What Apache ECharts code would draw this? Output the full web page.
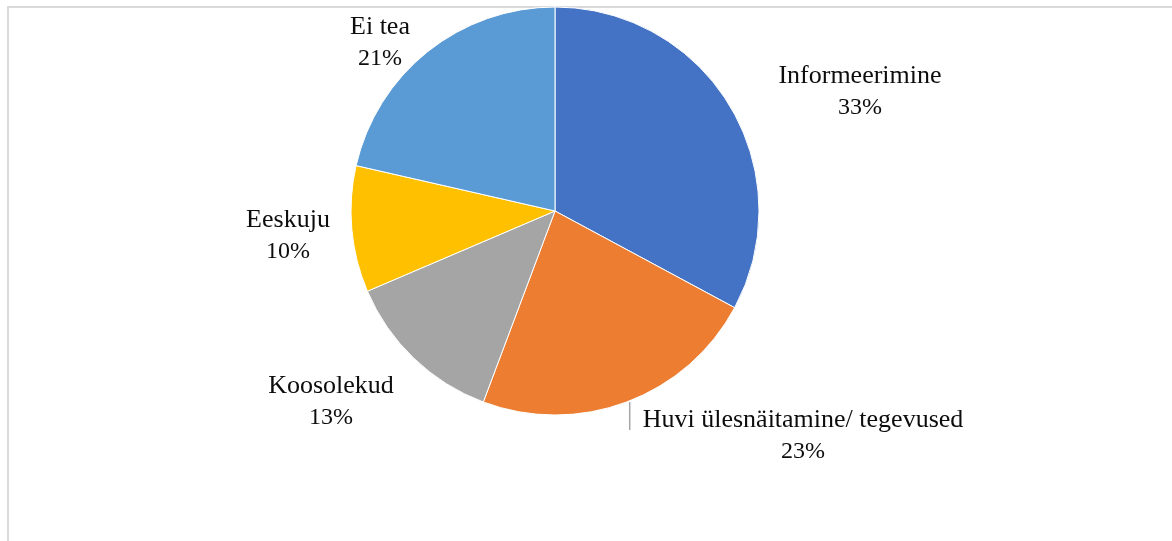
<!DOCTYPE html>
<html>
<head>
<meta charset="utf-8">
<script src="https://cdn.jsdelivr.net/npm/echarts@6/dist/echarts.min.js"></script>
<style>
html,body{margin:0;padding:0;background:#fff;}
#chart{width:1172px;height:541px;}
</style>
</head>
<body>
<div id="chart"></div>
<script>
const categories = ['Informeerimine', 'Huvi ülesnäitamine/ tegevused', 'Koosolekud', 'Eeskuju', 'Ei tea'];
const values = [23, 16, 9, 7, 15];
const colors = ['#4472C4', '#ED7D31', '#A5A5A5', '#FFC000', '#5B9BD5'];
// label block centres (text placement)
const labelPos = [[860, 92], [803, 436], [331, 402], [288, 236], [380, 43]];

const chart = echarts.init(document.getElementById('chart'), null, {renderer: 'canvas'});
const data = categories.map((c, i) => ({
  name: c,
  value: values[i],
  itemStyle: {color: colors[i]},
  labelLine: {show: i === 1}
}));

chart.setOption({
  animation: false,
  backgroundColor: '#fff',
  graphic: [{
    type: 'rect',
    shape: {x: 8, y: 7, width: 3000, height: 3000},
    style: {fill: 'none', stroke: '#d9d9d9', lineWidth: 2},
    silent: true
  }],
  series: [{
    type: 'pie',
    center: [555, 211],
    radius: 204,
    startAngle: 90,
    clockwise: true,
    data: data,
    itemStyle: {borderColor: '#ffffff', borderWidth: 1},
    label: {
      show: true,
      position: 'outside',
      formatter: p => '{n|' + p.name + '}\n{p|' + Math.round(p.percent) + '%}',
      fontFamily: 'Liberation Serif',
      color: '#0d0d0d',
      align: 'center',
      rich: {
        n: {fontFamily: 'Liberation Serif', fontSize: 26, lineHeight: 31, color: '#0d0d0d', align: 'center'},
        p: {fontFamily: 'Liberation Serif', fontSize: 24, lineHeight: 31, color: '#0d0d0d', align: 'center'}
      }
    },
    labelLine: {show: false, lineStyle: {color: '#a6a6a6', width: 1.5}},
    labelLayout: function (params) {
      const p = labelPos[params.dataIndex];
      const res = {x: p[0], y: p[1], align: 'center', verticalAlign: 'middle'};
      if (params.dataIndex === 1) {
        const lx = p[0] - params.labelRect.width / 2 - 13;
        res.labelLinePoints = [[lx, 402], [lx, 406], [lx, 430]];
      }
      return res;
    }
  }]
});
</script>
</body>
</html>
